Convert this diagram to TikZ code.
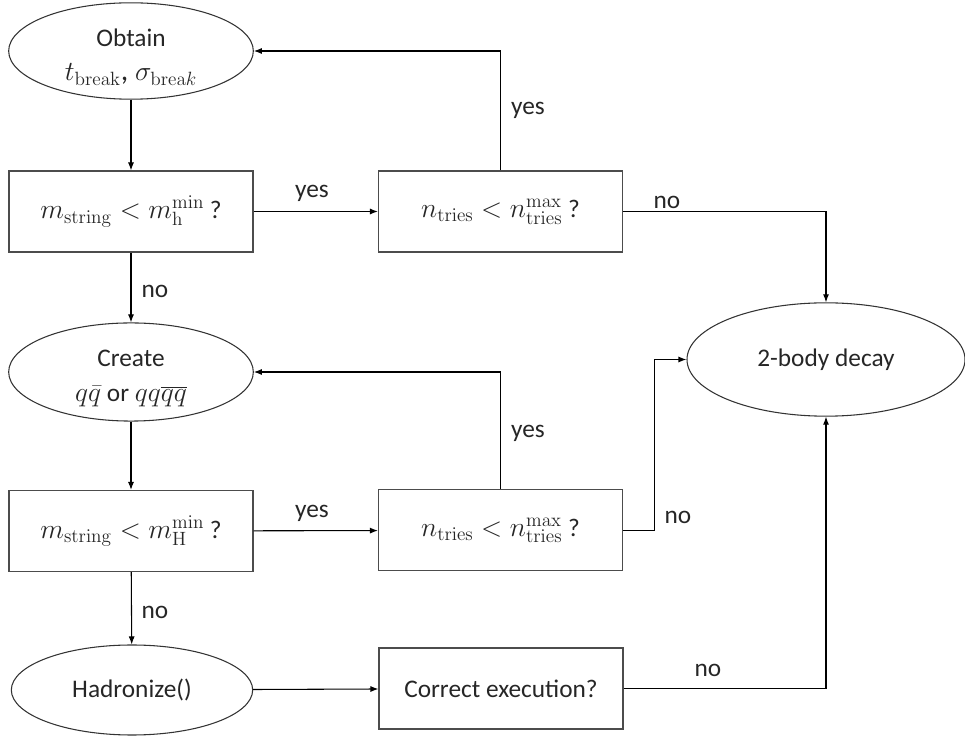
\documentclass[tikz,border=0pt]{standalone}
\usepackage[no-math]{fontspec}
\setmainfont{Carlito}
\usetikzlibrary{shapes.geometric,arrows.meta}
% larger size for the formula lines
\newcommand\bigmath{\fontsize{22.5}{26}\selectfont}
% extra head room above the first line of a two-line oval
\newcommand\headroom{\rule{0pt}{22pt}}

\begin{document}
\begin{tikzpicture}[x=0.75pt,y=-0.75pt,
  every node/.style={font=\fontsize{19}{23}\selectfont, text=black!85},
  stepbox/.style={draw=black!70, line width=0.8pt, rectangle, inner sep=0pt,
                  minimum width=183pt, minimum height=60.75pt, align=center},
  oval/.style={draw=black!80, line width=0.8pt, ellipse, inner sep=0pt,
               minimum width=183.5pt, minimum height=67.5pt, align=center},
  flow/.style={draw=black, line width=0.8pt, -{Latex[length=6pt,width=4.5pt]}},
  lbl/.style={inner sep=1pt}
]
\useasboundingbox (0,0) rectangle (965,737);

% decision and action nodes
\node[oval, minimum height=69pt] (obtain) at (131,51)
  {\headroom Obtain\\[3pt] {\bigmath $t_{\mathrm{break}}$, $\sigma_{\mathrm{brea}k}$}};
\node[stepbox] (cmp1) at (131,211.5)
  {{\bigmath $m_{\mathrm{string}} < m_{\mathrm{h}}^{\mathrm{min}}$} ?};
\node[stepbox] (try1) at (500.5,211.5)
  {{\bigmath $n_{\mathrm{tries}} < n_{\mathrm{tries}}^{\mathrm{max}}$} ?};
\node[oval, minimum height=65pt] (create) at (131,372)
  {\headroom Create\\[3pt] {\bigmath $q\bar{q}$} or {\bigmath $qq\overline{qq}$}};
\node[stepbox] (cmp2) at (131,531)
  {{\bigmath $m_{\mathrm{string}} < m_{\mathrm{H}}^{\mathrm{min}}$} ?};
\node[stepbox] (try2) at (500.5,530.4)
  {{\bigmath $n_{\mathrm{tries}} < n_{\mathrm{tries}}^{\mathrm{max}}$} ?};
\node[oval, minimum width=181pt] (hadron) at (132,690) {Hadronize()};
\node[stepbox] (check) at (501,688.5) {Correct execution?};
\node[oval, minimum width=208.5pt, minimum height=85pt] (decay) at (826,359.5) {2-body decay};

% connectors
\draw[flow] (obtain) -- (cmp1);
\draw[flow] (cmp1) -- (try1);
\draw[flow] (try1.north) |- (obtain.east);
\draw[flow] (try1.east) -| (decay.north);
\draw[flow] (cmp1) -- (create);
\draw[flow] (create) -- (cmp2);
\draw[flow] (cmp2) -- (try2);
\draw[flow] (try2.north) |- (create.east);
\draw[flow] (try2.east) -- ++(31,0) |- (decay.west);
\draw[flow] (cmp2) -- (hadron);
\draw[flow] (hadron) -- (check);
\draw[flow] (check.east) -| (decay.south);

% branch labels
\node[lbl] (y1) at (312,193) {yes};
\node[lbl] (y2) at (528,110) {yes};
\node[lbl] (n1) at (667,202) {no};
\node[lbl] (n2) at (155,291) {no};
\node[lbl] (y3) at (528,433) {yes};
\node[lbl] (y4) at (312,513) {yes};
\node[lbl] (n3) at (678,517) {no};
\node[lbl] (n4) at (155,612) {no};
\node[lbl] (n5) at (708,670) {no};
\end{tikzpicture}
\end{document}
